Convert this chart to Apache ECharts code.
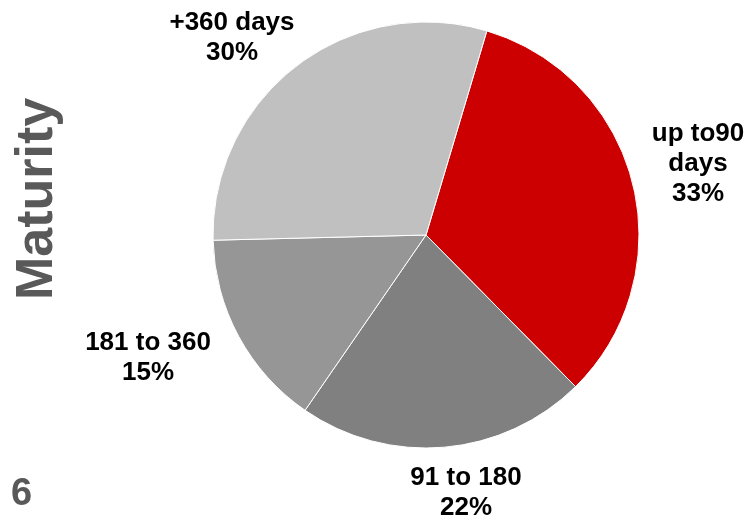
<!DOCTYPE html>
<html>
<head>
<meta charset="utf-8">
<style>
  html, body { margin: 0; padding: 0; background: #fff; }
  #chart { width: 754px; height: 519px; }
</style>
<script src="https://cdn.jsdelivr.net/npm/echarts@6/dist/echarts.min.js"></script>
</head>
<body>
<div id="chart"></div>
<script>
// Maturity breakdown (percent of total)
const categories = ['up to90\ndays', '91 to 180', '181 to 360', '+360 days'];
const shares = [33, 22, 15, 30];
const sliceColors = ['#CC0000', '#808080', '#969696', '#C0C0C0'];

// Label block centres (px), one per slice
const labelAnchors = [[698, 164], [466, 493], [148, 358], [232, 38]];

const chart = echarts.init(document.getElementById('chart'), null, { renderer: 'canvas' });

chart.setOption({
  animation: false,
  graphic: [
    {
      type: 'text',
      rotation: Math.PI / 2,
      x: 12,
      y: 300,
      style: {
        text: 'Maturity',
        font: 'bold 52px "Liberation Sans", Arial, sans-serif',
        fill: '#595959'
      }
    },
    {
      type: 'text',
      x: 11,
      y: 476,
      style: {
        text: '6',
        font: 'bold 38px "Liberation Sans", Arial, sans-serif',
        fill: '#595959'
      }
    }
  ],
  series: [{
    type: 'pie',
    center: [426, 235],
    radius: 213,
    startAngle: 73.4,
    clockwise: true,
    silent: true,
    itemStyle: { borderColor: '#ffffff', borderWidth: 1 },
    label: {
      show: true,
      position: 'outside',
      formatter: p => p.name + '\n' + p.value + '%',
      fontFamily: '"Liberation Sans", Arial, sans-serif',
      fontWeight: 'bold',
      fontSize: 26,
      lineHeight: 30,
      color: '#000',
      align: 'center',
      overflow: 'none'
    },
    labelLine: { show: false },
    labelLayout: params => ({
      x: labelAnchors[params.dataIndex][0],
      y: labelAnchors[params.dataIndex][1],
      align: 'center',
      verticalAlign: 'middle'
    }),
    data: categories.map((name, i) => ({
      name,
      value: shares[i],
      itemStyle: { color: sliceColors[i] }
    }))
  }]
});
</script>
</body>
</html>
